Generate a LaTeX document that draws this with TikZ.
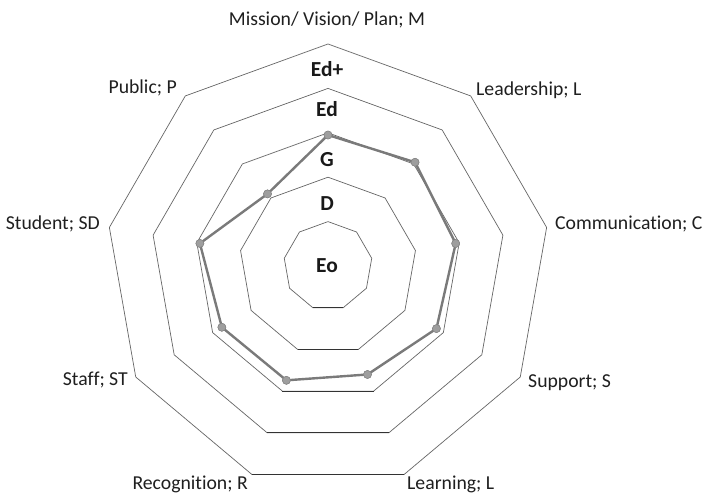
\documentclass[tikz,border=0pt]{standalone}
\usepackage{fontspec}
\setmainfont{Carlito}[Ligatures=CommonOff]
\begin{document}
\begin{tikzpicture}[x=1bp,y=-1bp,
  grid/.style={draw=black!60, line width=0.7bp, line join=round},
  gridbottom/.style={draw=black!80, line width=1.2bp},
  series/.style={draw=black!52, line width=2.4bp, line join=round},
  pt/.style={circle, fill=black!38, draw=black!48, line width=0.5bp, inner sep=0pt, minimum size=8bp},
  axislabel/.style={font=\fontsize{19.8}{21}\selectfont, text=black!88, inner sep=0pt},
  ringlabel/.style={font=\fontsize{21.5}{23}\selectfont\bfseries, text=black!90, inner sep=0pt, anchor=base}]
\useasboundingbox (0,0) rectangle (703,494);
\fill[white] (0,0) rectangle (703,494);
% grid rings
\foreach \r in {1,...,5} {
  \foreach \k in {0,...,8} {
    \coordinate (v\r-\k) at ({328+44.4*\r*cos(90-40*\k)},{266-44.4*\r*sin(90-40*\k)});
  }
  \draw[grid] (v\r-0) -- (v\r-1) -- (v\r-2) -- (v\r-3) -- (v\r-4) -- (v\r-5) -- (v\r-6) -- (v\r-7) -- (v\r-8) -- cycle;
  \draw[gridbottom] (v\r-4) -- (v\r-5);
}
% ring labels
\node[ringlabel] (rEdp) at (327,77) {Ed+};
\node[ringlabel] (rEd) at (327,117) {Ed};
\node[ringlabel] (rG) at (327,167) {G};
\node[ringlabel] (rD) at (327,211) {D};
\node[ringlabel] (rEo) at (327,273) {Eo};
% data points
\foreach \n/\a/\v in {M/90/2.95, L/50/3.05, C/10/2.92, S/-30/2.82, Lr/-70/2.6, R/-110/2.74, ST/-150/2.76, SD/170/2.93, P/130/2.12} {
  \node[pt] (p\n) at ({328+44.4*\v*cos(\a)},{266-44.4*\v*sin(\a)}) {};
}
\draw[series] (pM.center) -- (pL.center) -- (pC.center) -- (pS.center) -- (pLr.center) -- (pR.center) -- (pST.center) -- (pSD.center) -- (pP.center) -- cycle;
\foreach \n in {M,L,C,S,Lr,R,ST,SD,P} { \node[pt] at (p\n) {}; }
% axis labels
\node[axislabel, anchor=base] (lM) at (327,26) {Mission/ Vision/ Plan; M};
\node[axislabel, anchor=base west] (lL) at (476,95.3) {Leadership; L};
\node[axislabel, anchor=base west] (lC) at (555,230) {Communication; C};
\node[axislabel, anchor=base west] (lS) at (528,387) {Support; S};
\node[axislabel, anchor=base west] (lLr) at (407,489.5) {Learning; L};
\node[axislabel, anchor=base east] (lR) at (248,489.5) {Recognition; R};
\node[axislabel, anchor=base east] (lST) at (128,385) {Staff; ST};
\node[axislabel, anchor=base east] (lSD) at (100,230) {Student; SD};
\node[axislabel, anchor=base east] (lP) at (177,93.7) {Public; P};
\end{tikzpicture}
\end{document}
